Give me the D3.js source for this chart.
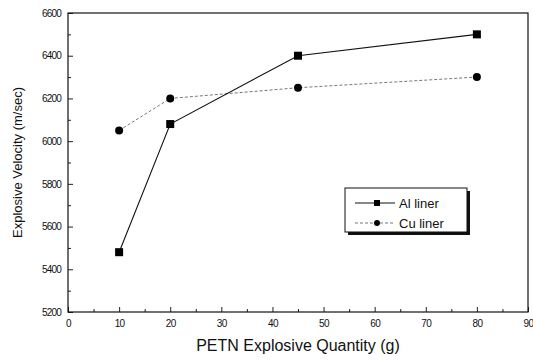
<!DOCTYPE html>
<html>
<head>
<meta charset="utf-8">
<script src="https://cdn.jsdelivr.net/npm/d3@7"></script>
<style>
  body { margin: 0; background: #fff; }
  svg { display: block; font-family: "Liberation Sans", Arial, sans-serif; }
</style>
</head>
<body>
<div id="chart"></div>
<script>
// values
const quantities = [10, 20, 45, 80];
const alVelocity = [5480, 6080, 6400, 6500];
const cuVelocity = [6050, 6200, 6250, 6300];
const seriesNames = ["Al liner", "Cu liner"];
const xTicks = [0, 10, 20, 30, 40, 50, 60, 70, 80, 90];
const yTicks = [5200, 5400, 5600, 5800, 6000, 6200, 6400, 6600];

const width = 533, height = 363;
const margin = { top: 13, right: 5, bottom: 51, left: 68 };

const svg = d3.select("#chart").append("svg")
    .attr("width", width)
    .attr("height", height);

const x = d3.scaleLinear().domain([0, 90]).range([margin.left, width - margin.right]);
const y = d3.scaleLinear().domain([5200, 6600]).range([height - margin.bottom, margin.top]);

// minor ticks (inward)
const xMinor = d3.range(5, 90, 10);
const yMinor = d3.range(5300, 6600, 200);

svg.append("g")
    .attr("transform", `translate(0,${y(5200)})`)
    .call(d3.axisBottom(x).tickValues(xTicks).tickSizeInner(-5).tickSizeOuter(0).tickPadding(8))
    .call(g => g.select(".domain").remove())
    .call(g => g.selectAll(".tick text").attr("font-size", 10).attr("letter-spacing", "-0.6px").attr("fill", "#111"))
    .call(g => g.selectAll(".tick line").attr("stroke", "#222"));

svg.append("g")
    .attr("transform", `translate(0,${y(5200)})`)
    .call(d3.axisBottom(x).tickValues(xMinor).tickSizeInner(-3).tickSizeOuter(0).tickFormat(""))
    .call(g => g.select(".domain").remove())
    .call(g => g.selectAll(".tick line").attr("stroke", "#222"));

svg.append("g")
    .attr("transform", `translate(${x(0)},0)`)
    .call(d3.axisLeft(y).tickValues(yTicks).tickFormat(d3.format("d")).tickSizeInner(-5).tickSizeOuter(0).tickPadding(7))
    .call(g => g.select(".domain").remove())
    .call(g => g.selectAll(".tick text").attr("font-size", 10).attr("letter-spacing", "-0.8px").attr("fill", "#111"))
    .call(g => g.selectAll(".tick line").attr("stroke", "#222"));

svg.append("g")
    .attr("transform", `translate(${x(0)},0)`)
    .call(d3.axisLeft(y).tickValues(yMinor).tickSizeInner(-3).tickSizeOuter(0).tickFormat(""))
    .call(g => g.select(".domain").remove())
    .call(g => g.selectAll(".tick line").attr("stroke", "#222"));

// frame
svg.append("rect")
    .attr("x", x(0)).attr("y", y(6600))
    .attr("width", x(90) - x(0)).attr("height", y(5200) - y(6600))
    .attr("fill", "none").attr("stroke", "#111").attr("stroke-width", 1.2);

// series
const line = d3.line().x(d => x(d[0])).y(d => y(d[1]));
const alData = quantities.map((q, i) => [q, alVelocity[i]]);
const cuData = quantities.map((q, i) => [q, cuVelocity[i]]);

svg.append("path").datum(cuData)
    .attr("d", line).attr("fill", "none")
    .attr("stroke", "#777").attr("stroke-width", 1).attr("stroke-dasharray", "3,2");

svg.append("path").datum(alData)
    .attr("d", line).attr("fill", "none")
    .attr("stroke", "#111").attr("stroke-width", 1.1);

svg.append("g").selectAll("rect").data(alData).join("rect")
    .attr("x", d => x(d[0]) - 4).attr("y", d => y(d[1]) - 4)
    .attr("width", 8).attr("height", 8).attr("fill", "#000");

svg.append("g").selectAll("circle").data(cuData).join("circle")
    .attr("cx", d => x(d[0])).attr("cy", d => y(d[1]))
    .attr("r", 4).attr("fill", "#000");

// axis titles
svg.append("text")
    .attr("x", (x(0) + x(90)) / 2).attr("y", 351)
    .attr("text-anchor", "middle").attr("font-size", 16).attr("fill", "#111")
    .text("PETN Explosive Quantity (g)");

svg.append("text")
    .attr("transform", `translate(22,${(y(5200) + y(6600)) / 2}) rotate(-90)`)
    .attr("text-anchor", "middle").attr("font-size", 13).attr("fill", "#111")
    .text("Explosive Velocity (m/sec)");

// legend
const lg = svg.append("g").attr("transform", "translate(345,188)");
lg.append("rect").attr("x", 3).attr("y", 3).attr("width", 122).attr("height", 44).attr("fill", "#111");
lg.append("rect").attr("x", 0).attr("y", 0).attr("width", 122).attr("height", 44)
    .attr("fill", "#fff").attr("stroke", "#111").attr("stroke-width", 1);

const rows = lg.selectAll("g.row").data(seriesNames).join("g")
    .attr("class", "row")
    .attr("transform", (d, i) => `translate(0,${15 + i * 20})`);

rows.append("line")
    .attr("x1", 10).attr("x2", 50)
    .attr("stroke", (d, i) => i ? "#777" : "#111")
    .attr("stroke-dasharray", (d, i) => i ? "3,2" : null);

rows.filter((d, i) => i === 0).append("rect")
    .attr("x", 29).attr("y", -3).attr("width", 6).attr("height", 6).attr("fill", "#000");
rows.filter((d, i) => i === 1).append("circle")
    .attr("cx", 32).attr("cy", 0).attr("r", 3).attr("fill", "#000");

rows.append("text")
    .attr("x", 54).attr("y", 5)
    .attr("font-size", 13).attr("fill", "#111")
    .text(d => d);
</script>
</body>
</html>
